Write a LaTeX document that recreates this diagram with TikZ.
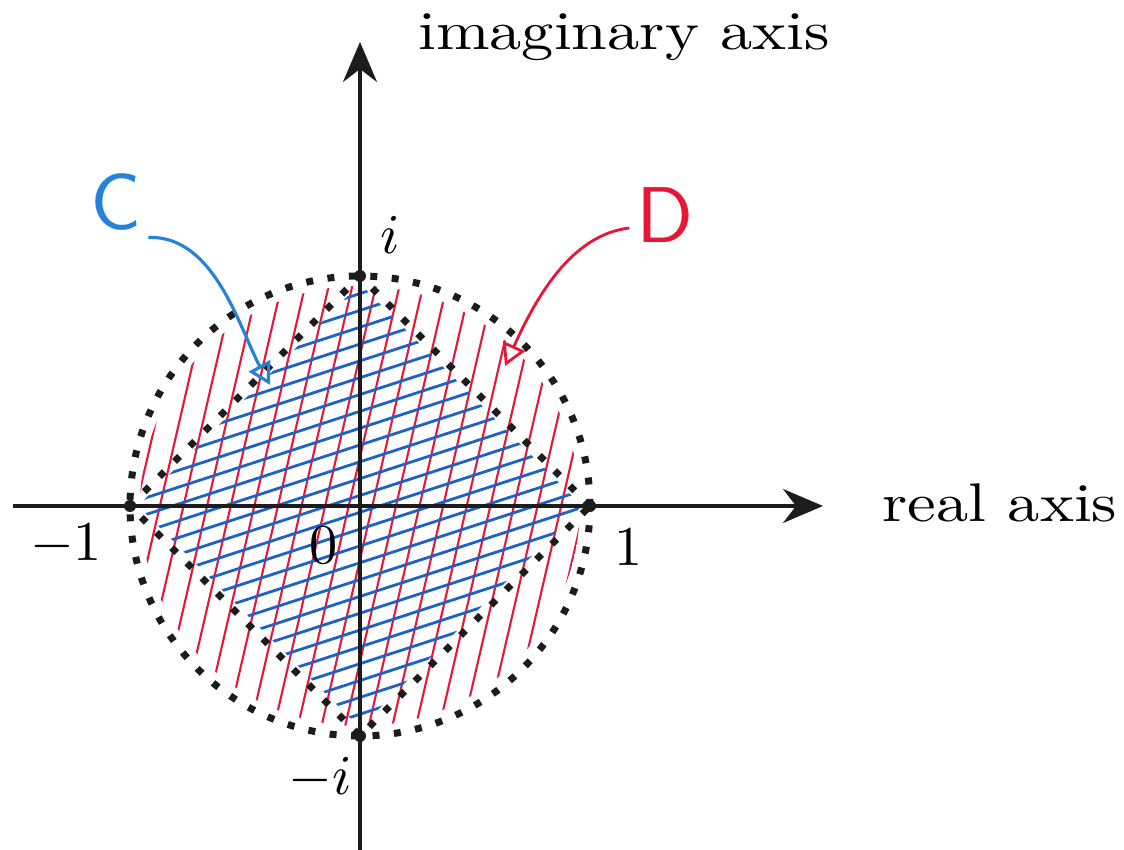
\documentclass[tikz,border=0pt]{standalone}
\usetikzlibrary{arrows.meta}
\definecolor{darkaxis}{RGB}{28,28,28}
\definecolor{hatchred}{RGB}{228,24,56}
\definecolor{hatchblue}{RGB}{30,98,198}
\definecolor{penblue}{RGB}{38,130,216}
\definecolor{penred}{RGB}{230,22,52}
\begin{document}
\begin{tikzpicture}[
  axisline/.style={line width=1pt,color=darkaxis,-{Stealth[length=4mm,width=3.4mm]}},
  dotline/.style={line width=0.7mm,color=darkaxis,dash pattern=on 0.7mm off 1.45mm},
  hatchD/.style={line width=0.6pt,color=hatchred},
  hatchC/.style={line width=0.8pt,color=hatchblue},
  numlbl/.style={scale=1.6},
  axislbl/.style={xscale=1.83,yscale=1.55,anchor=base},
  handlbl/.style={font=\sffamily,scale=2.25,inner sep=0.7pt}]
\useasboundingbox (-3.60,-3.44) rectangle (7.64,5.06);
% red hatching of the disc D
\begin{scope}
  \clip (0,0) circle (2.2);
  \foreach \k in {-2.19,-1.96,...,2.3}
    \draw[hatchD,rotate=77] (-3,\k) -- (3,\k);
\end{scope}
% blue hatching of the square C
\begin{scope}
  \clip (2.22,0) -- (0,2.22) -- (-2.22,0) -- (0,-2.22) -- cycle;
  \foreach \k in {-2.14,-1.98,...,2.2}
    \draw[hatchC,rotate=18] (-3,\k) -- (3,\k);
\end{scope}
% axes
\coordinate (xl) at (-3.47,0);
\coordinate (xr) at (4.63,0);
\coordinate (yb) at (0,-3.44);
\coordinate (yt) at (0,4.64);
\draw[axisline] (xl) -- (xr);
\draw[axisline] (yb) -- (yt);
\node[axislbl] (re) at (6.40,-0.16) {real axis};
\node[axislbl] (im) at (2.64,4.56) {imaginary axis};
% boundaries
\draw[dotline] (0,0) circle (2.3);
\draw[dotline] (2.3,0) -- (0,2.3) -- (-2.3,0) -- (0,-2.3) -- cycle;
\foreach \p in {(2.3,0),(0,2.3),(-2.3,0),(0,-2.3)}
  \fill[darkaxis] \p circle (0.06);
\node[numlbl] (mone) at (-2.94,-0.39) {$-1$};
\node[numlbl] (zero) at (-0.36,-0.39) {$0$};
\node[numlbl] (one) at (2.69,-0.41) {$1$};
\node[numlbl] (ii) at (0.30,2.71) {$i$};
\node[numlbl] (mii) at (-0.40,-2.72) {$-i$};
% hand labels
\node[handlbl,color=penblue] (lblC) at (-2.44,3.04) {C};
\node[handlbl,color=penred] (lblD) at (3.05,2.91) {D};
\coordinate (tipC) at (-0.90,1.21);
\coordinate (tipD) at (1.45,1.40);
\draw[line width=0.9pt,color=penblue,-{Triangle[open,length=2.2mm,width=2.4mm]}]
  (lblC.south east) .. controls (-1.45,2.71) and (-1.20,1.76) .. (tipC);
\draw[line width=0.8pt,color=penred,-{Triangle[open,length=2.2mm,width=2.4mm]}]
  (lblD.200) .. controls (2.10,2.71) and (1.75,2.06) .. (tipD);
\end{tikzpicture}
\end{document}
